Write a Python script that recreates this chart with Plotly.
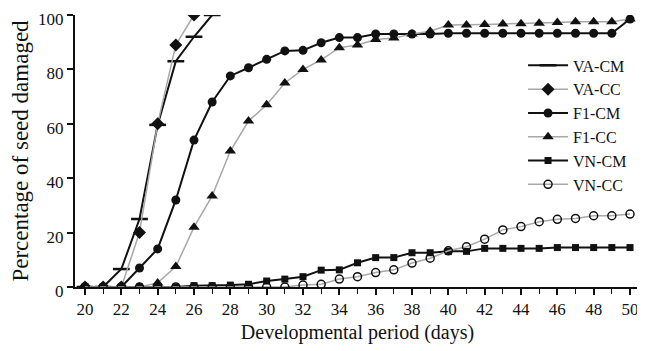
import plotly.graph_objects as go

days = list(range(20, 51))

va_cm_days = [20, 21, 22, 23, 24, 25, 26, 27]
va_cm = [0, 0, 6.6, 25, 59.6, 83, 92, 100]

va_cc_days = [20, 21, 22, 23, 24, 25, 26]
va_cc = [0, 0, 0, 20, 60, 89, 100]

f1_cm = [0, 0, 0, 7, 14, 32, 54, 68, 77.6, 80.6, 83.7, 86.8, 87, 89.8, 91.7, 91.7,
         93, 93, 93, 93, 93.3, 93.3, 93.3, 93.3, 93.3, 93.3, 93.3, 93.3, 93.3, 93.3, 98.5]

f1_cc = [0, 0, 0, 0, 1.5, 7.5, 22, 33.5, 50, 61, 67, 75, 80, 83.5, 88, 89,
         91, 91.5, 93, 94, 96.3, 96.3, 96.5, 96.7, 96.8, 97, 97.2, 97.5, 97.5, 97.5, 98.5]

vn_cm = [0, 0, 0, 0, 0, 0, 0.5, 0.5, 0.7, 1, 2.2, 2.9, 3.8, 6.2, 6.3, 8.9,
         10.8, 10.8, 12.6, 12.6, 13.1, 13.1, 14.2, 14.2, 14.2, 14.2, 14.5, 14.5, 14.5, 14.5, 14.5]

vn_cc = [0, 0, 0, 0, 0, 0, 0, 0, 0, 0, 0, 0, 0.7, 1, 2.9, 3.8,
         5.3, 6.3, 8.8, 10.6, 13.3, 14.8, 17.6, 21, 22.2, 24, 24.9, 25.2, 26.2, 26.2, 26.8]

series_names = ["VA-CM", "VA-CC", "F1-CM", "F1-CC", "VN-CM", "VN-CC"]
x_tick_vals = list(range(20, 51, 2))
y_tick_vals = [0, 20, 40, 60, 80, 100]

BLACK = "#111111"
GRAY = "#a8a8a8"
FONT = "Liberation Serif"

fig = go.Figure()

fig.add_trace(go.Scatter(
    x=va_cm_days, y=va_cm, name=series_names[0], mode="lines+markers",
    line=dict(color=BLACK, width=2),
    marker=dict(symbol="line-ew", size=12, color=BLACK, line=dict(color=BLACK, width=2.5)),
))
fig.add_trace(go.Scatter(
    x=va_cc_days, y=va_cc, name=series_names[1], mode="lines+markers",
    line=dict(color=GRAY, width=1.5),
    marker=dict(symbol="diamond", size=10, color=BLACK),
))
fig.add_trace(go.Scatter(
    x=days, y=f1_cm, name=series_names[2], mode="lines+markers",
    line=dict(color=BLACK, width=2),
    marker=dict(symbol="circle", size=9, color=BLACK),
))
fig.add_trace(go.Scatter(
    x=days, y=f1_cc, name=series_names[3], mode="lines+markers",
    line=dict(color=GRAY, width=1.5),
    marker=dict(symbol="triangle-up", size=10, color=BLACK),
))
fig.add_trace(go.Scatter(
    x=days, y=vn_cm, name=series_names[4], mode="lines+markers",
    line=dict(color=BLACK, width=2),
    marker=dict(symbol="square", size=7, color=BLACK),
))
fig.add_trace(go.Scatter(
    x=days, y=vn_cc, name=series_names[5], mode="lines+markers",
    line=dict(color=GRAY, width=1.5),
    marker=dict(symbol="circle-open", size=8, color=BLACK, line=dict(width=1.5)),
))

# the page body has an 8px default margin, so the figure is sized to fit the window
fig.update_layout(
    width=637, height=343,
    margin=dict(l=67, r=5, t=7, b=64),
    plot_bgcolor="white", paper_bgcolor="white",
    font=dict(family=FONT, color=BLACK, size=17),
    legend=dict(x=0.793, y=0.877, xanchor="left", yanchor="top",
                font=dict(family=FONT, size=16, color=BLACK),
                bgcolor="rgba(0,0,0,0)", itemwidth=40, tracegroupgap=0),
    xaxis=dict(
        range=[19.45, 50.55], tickvals=x_tick_vals, ticks="outside", ticklen=6,
        tickwidth=1.5, tickcolor=BLACK, showline=True, linecolor=BLACK, linewidth=2,
        showgrid=False, zeroline=False, tickfont=dict(size=17), automargin=False,
        minor=dict(dtick=1, ticks="outside", ticklen=5, tickcolor=BLACK, tickwidth=1),
        title=dict(text="Developmental period (days)", font=dict(size=20), standoff=7),
    ),
    yaxis=dict(
        range=[0, 100], tickvals=y_tick_vals, ticks="outside", ticklen=6,
        tickwidth=1.5, tickcolor=BLACK, showline=True, linecolor=BLACK, linewidth=2,
        showgrid=False, zeroline=False, tickfont=dict(size=17), automargin=False,
        ticklabeloverflow="allow", ticklabelshift=4,
        title=dict(text="Percentage of seed damaged", font=dict(size=23), standoff=13),
    ),
)

fig.write_html("out.html")
